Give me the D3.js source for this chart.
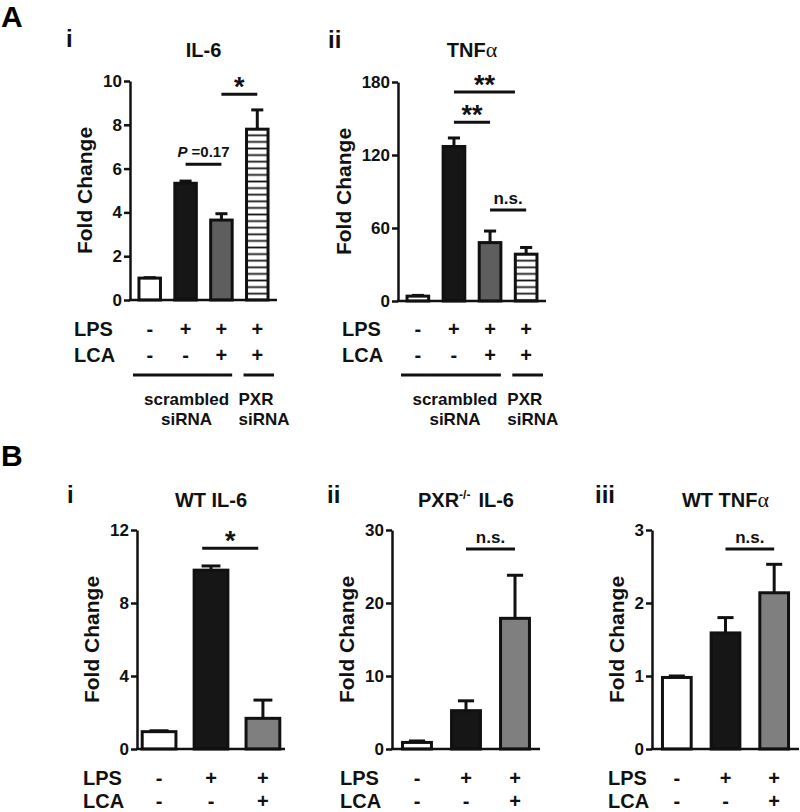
<!DOCTYPE html>
<html><head><meta charset="utf-8">
<script src="https://cdn.jsdelivr.net/npm/d3@7"></script>
<style>
body{margin:0;background:#fff}
svg{display:block;font-family:"Liberation Sans",Arial,sans-serif;font-weight:bold}
</style>
</head><body>
<svg id="c" width="800" height="812"></svg>
<script>
// ---------- DATA ----------
const groupsA = ["ctrl", "LPS", "LPS+LCA", "PXR siRNA LPS+LCA"];
const lpsA = ["-", "+", "+", "+"];
const lcaA = ["-", "-", "+", "+"];
const fillsA = ["white", "black", "gray", "hatch"];
const il6A = [1.0, 5.33, 3.65, 7.8];
const il6AErr = [0.02, 0.1, 0.29, 0.88];
const tnfA = [4, 127, 48, 38.5];
const tnfAErr = [0.6, 7, 9.5, 5.5];
const ticksAi = [0, 2, 4, 6, 8, 10];
const ticksAii = [0, 60, 120, 180];

const groupsB = ["ctrl", "LPS", "LPS+LCA"];
const lpsB = ["-", "+", "+"];
const lcaB = ["-", "-", "+"];
const fillsB = ["white", "black", "gray"];
const wtIl6B = [0.95, 9.8, 1.68];
const wtIl6BErr = [0.05, 0.23, 1.0];
const pxrIl6B = [0.9, 5.25, 17.9];
const pxrIl6BErr = [0.2, 1.35, 5.9];
const wtTnfB = [0.98, 1.59, 2.14];
const wtTnfBErr = [0.02, 0.21, 0.39];
const ticksBi = [0, 4, 8, 12];
const ticksBii = [0, 10, 20, 30];
const ticksBiii = [0, 1, 2, 3];

// significance comparisons (bar index from/to, height in data units, label)
const sigAi = [{a: 1, b: 2, v: 6.2, label: "P =0.17"}, {a: 2, b: 3, v: 9.4, label: "*"}];
const sigAii = [{a: 1, b: 2.69, v: 171.7, label: "**"}, {a: 1, b: 2, v: 147, label: "**"}, {a: 2, b: 3, v: 74.8, label: "n.s."}];
const sigBi = [{a: 0.83, b: 1.91, v: 11, label: "*"}];
const sigBii = [{a: 1, b: 2, v: 27.4, label: "n.s."}];
const sigBiii = [{a: 1, b: 2, v: 2.74, label: "n.s."}];

// ---------- LAYOUT ----------
const svg = d3.select("#c");
const defs = svg.append("defs");
const pat = defs.append("pattern").attr("id", "hatch").attr("patternUnits", "userSpaceOnUse")
  .attr("width", 8).attr("height", 6.6);
pat.append("rect").attr("width", 8).attr("height", 6.6).attr("fill", "#fff");
pat.append("rect").attr("y", 2.4).attr("width", 8).attr("height", 1.8).attr("fill", "#1a1a1a");

const fillColor = {white: "#ffffff", black: "#161616", hatch: "url(#hatch)"};

const panels = [
  {groups: groupsA, vals: il6A, errs: il6AErr, ticks: ticksAi, fills: fillsA, gray: "#5e5e5e", sig: sigAi,
   x0: 130, x1: 277, yTop: 81, yBot: 300, pi: 0.4, po: 0.25, rowX: 74, rowY: [336, 362],
   tag: "i", tagX: 66, tagY: 47, titleY: 57, title: t => t.text("IL-6"),
   lps: lpsA, lca: lcaA, siRNA: true},
  {groups: groupsA, vals: tnfA, errs: tnfAErr, ticks: ticksAii, fills: fillsA, gray: "#5e5e5e", sig: sigAii,
   x0: 398, x1: 546, yTop: 82, yBot: 301, pi: 0.4, po: 0.25, rowX: 342, rowY: [336, 362],
   tag: "ii", tagX: 328, tagY: 48, titleY: 57,
   title: t => { t.append("tspan").text("TNF"); t.append("tspan").attr("font-family", "Liberation Serif").attr("font-weight", "normal").attr("font-size", 22).text("α"); },
   lps: lpsA, lca: lcaA, siRNA: true},
  {groups: groupsB, vals: wtIl6B, errs: wtIl6BErr, ticks: ticksBi, fills: fillsB, gray: "#7f7f7f", sig: sigBi,
   x0: 137, x1: 285, yTop: 530, yBot: 749, pi: 0.35, po: 0.1, rowX: 83, rowY: [785, 808],
   tag: "i", tagX: 67, tagY: 503, titleY: 507, title: t => t.text("WT IL-6"),
   lps: lpsB, lca: lcaB},
  {groups: groupsB, vals: pxrIl6B, errs: pxrIl6BErr, ticks: ticksBii, fills: fillsB, gray: "#7f7f7f", sig: sigBii,
   x0: 392, x1: 540, yTop: 530, yBot: 749, pi: 0.41, po: 0.215, rowX: 340, rowY: [785, 808],
   tag: "ii", tagX: 327, tagY: 503, titleY: 507,
   title: t => { t.append("tspan").text("PXR"); t.append("tspan").attr("font-size", 12).attr("dy", -8).text("-/-");
                 t.append("tspan").attr("dy", 8).attr("dx", 8).text("IL-6"); },
   lps: lpsB, lca: lcaB},
  {groups: groupsB, vals: wtTnfB, errs: wtTnfBErr, ticks: ticksBiii, fills: fillsB, gray: "#7f7f7f", sig: sigBiii,
   x0: 652, x1: 799, yTop: 530, yBot: 749, pi: 0.41, po: 0.215, rowX: 608, rowY: [785, 808],
   tag: "iii", tagX: 595, tagY: 503, titleY: 507,
   title: t => { t.append("tspan").text("WT TNF"); t.append("tspan").attr("font-family", "Liberation Serif").attr("font-weight", "normal").attr("font-size", 22).text("α"); },
   lps: lpsB, lca: lcaB}
];

svg.append("text").attr("x", 1).attr("y", 27).attr("font-size", 30).text("A");
svg.append("text").attr("x", 1).attr("y", 466).attr("font-size", 30).text("B");

panels.forEach(p => {
  const g = svg.append("g");
  const x = d3.scaleBand().domain(p.groups).range([p.x0, p.x1]).paddingInner(p.pi).paddingOuter(p.po);
  const y = d3.scaleLinear().domain([p.ticks[0], p.ticks[p.ticks.length - 1]]).range([p.yBot, p.yTop]);
  const bw = x.bandwidth();
  const c0 = x(p.groups[0]) + bw / 2;
  const pos = i => c0 + i * x.step();

  // bars
  g.selectAll("rect.bar").data(p.vals).join("rect").attr("class", "bar")
    .attr("x", (d, i) => x(p.groups[i])).attr("width", bw)
    .attr("y", d => y(d)).attr("height", d => y(0) - y(d))
    .attr("fill", (d, i) => p.fills[i] === "gray" ? p.gray : fillColor[p.fills[i]])
    .attr("stroke", "#111").attr("stroke-width", 3);

  // error bars (upper only)
  const eb = g.selectAll("g.err").data(p.vals).join("g").attr("class", "err");
  eb.append("line").attr("x1", (d, i) => pos(i)).attr("x2", (d, i) => pos(i))
    .attr("y1", d => y(d)).attr("y2", (d, i) => y(d + p.errs[i]))
    .attr("stroke", "#111").attr("stroke-width", 3);
  eb.append("line").attr("x1", (d, i) => pos(i) - bw * 0.28).attr("x2", (d, i) => pos(i) + bw * 0.28)
    .attr("y1", (d, i) => y(d + p.errs[i])).attr("y2", (d, i) => y(d + p.errs[i]))
    .attr("stroke", "#111").attr("stroke-width", 3);

  // axes
  const ya = g.append("g").attr("transform", `translate(${p.x0},0)`)
    .call(d3.axisLeft(y).tickValues(p.ticks).tickSize(6).tickPadding(2).tickSizeOuter(0).tickFormat(d3.format("d")));
  ya.select(".domain").attr("stroke", "#111").attr("stroke-width", 2.5);
  ya.selectAll(".tick line").attr("stroke", "#111").attr("stroke-width", 2.5);
  ya.selectAll(".tick text").attr("font-size", 17).attr("font-family", "Liberation Sans").attr("font-weight", "bold").attr("fill", "#111");
  const xa = g.append("g").attr("transform", `translate(0,${p.yBot})`)
    .call(d3.axisBottom(x).tickSize(0).tickSizeOuter(0).tickFormat(""));
  xa.select(".domain").attr("stroke", "#111").attr("stroke-width", 2.5)
    .attr("d", `M${p.x0 - 1},0H${p.x1}`);

  // y label
  const bb = ya.node().getBBox();
  g.append("text").attr("transform", `translate(${p.x0 + bb.x - 18},${(p.yTop + p.yBot) / 2}) rotate(-90)`)
    .attr("text-anchor", "middle").attr("dy", "0.35em").attr("font-size", 21).attr("fill", "#111").text("Fold Change");

  // title and tag
  p.title(g.append("text").attr("x", (p.x0 + p.x1) / 2).attr("y", p.titleY).attr("text-anchor", "middle")
    .attr("font-size", 20).attr("fill", "#111"));
  g.append("text").attr("x", p.tagX).attr("y", p.tagY).attr("font-size", 24).attr("fill", "#111").text(p.tag);

  // significance
  p.sig.forEach(s => {
    const ly = y(s.v);
    g.append("line").attr("x1", pos(s.a)).attr("x2", pos(s.b)).attr("y1", ly).attr("y2", ly)
      .attr("stroke", "#111").attr("stroke-width", 3);
    const t = g.append("text").attr("x", (pos(s.a) + pos(s.b)) / 2).attr("text-anchor", "middle").attr("fill", "#111");
    if (s.label.startsWith("*")) {
      t.attr("y", ly + 2).attr("font-size", 27).text(s.label);
    } else if (s.label.startsWith("P")) {
      t.attr("y", ly - 7).attr("font-size", 15);
      t.append("tspan").attr("font-style", "italic").text("P");
      t.append("tspan").text(" =0.17");
    } else {
      t.attr("y", ly - 6).attr("font-size", 17).text(s.label);
    }
  });

  // treatment rows
  [["LPS", p.lps], ["LCA", p.lca]].forEach(([name, signs], r) => {
    g.append("text").attr("x", p.rowX).attr("y", p.rowY[r]).attr("font-size", 20).attr("fill", "#111").text(name);
    signs.forEach((s, i) => {
      g.append("text").attr("x", pos(i)).attr("y", p.rowY[r]).attr("text-anchor", "middle")
        .attr("font-size", 20).attr("fill", "#111").text(s);
    });
  });

  // siRNA group lines
  if (p.siRNA) {
    const u1a = x(p.groups[0]) - 6, u1b = x(p.groups[2]) + bw;
    const u2a = x(p.groups[3]) - 3, u2b = x(p.groups[3]) + bw + 6;
    g.append("line").attr("x1", u1a).attr("x2", u1b).attr("y1", 375).attr("y2", 375).attr("stroke", "#111").attr("stroke-width", 3);
    g.append("line").attr("x1", u2a).attr("x2", u2b).attr("y1", 375).attr("y2", 375).attr("stroke", "#111").attr("stroke-width", 3);
    const m = (u1a + u1b) / 2 + 4;
    g.append("text").attr("x", m).attr("y", 405).attr("text-anchor", "middle").attr("font-size", 17).attr("fill", "#111").text("scrambled");
    g.append("text").attr("x", m).attr("y", 425).attr("text-anchor", "middle").attr("font-size", 17).attr("fill", "#111").text("siRNA");
    g.append("text").attr("x", u2a - 5).attr("y", 405).attr("font-size", 17).attr("fill", "#111").text("PXR");
    g.append("text").attr("x", u2a - 5).attr("y", 425).attr("font-size", 17).attr("fill", "#111").text("siRNA");
  }
});
</script>
</body></html>
